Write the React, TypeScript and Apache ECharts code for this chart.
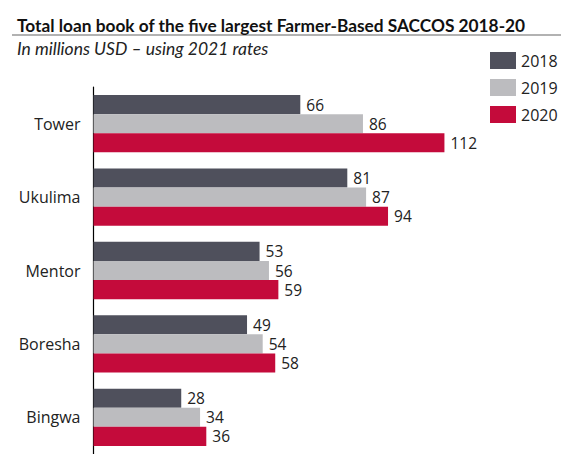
import React, { useEffect, useRef } from "react";
import * as echarts from "echarts";

const categories = ["Tower", "Ukulima", "Mentor", "Boresha", "Bingwa"];
const years = ["2018", "2019", "2020"];
const values2018 = [66, 81, 53, 49, 28];
const values2019 = [86, 87, 56, 54, 34];
const values2020 = [112, 94, 59, 58, 36];
const colors = ["#4f505c", "#bcbcbf", "#c40b3b"];

export default function App() {
  const ref = useRef<HTMLDivElement>(null);
  useEffect(() => {
    if (!ref.current) return;
    const chart = echarts.init(ref.current, null, { renderer: "svg" });
    const font = "Lato, 'Open Sans', sans-serif";
    const font2 = "'Open Sans', Lato, sans-serif";
    const data = [values2018, values2019, values2020];
    chart.setOption({
      animation: false,
      backgroundColor: "#ffffff",
      title: [
        {
          text: "Total loan book of the five largest Farmer-Based SACCOS 2018-20",
          left: 12,
          top: 12,
          textStyle: { fontFamily: font, fontSize: 17.3, fontWeight: "bold", color: "#111" },
        },
        {
          text: "In millions USD \u2013 using 2021 rates",
          left: 12,
          top: 34,
          textStyle: { fontFamily: font, fontSize: 17.5, fontWeight: "normal", fontStyle: "italic", color: "#222" },
        },
      ],
      graphic: [
        {
          type: "line",
          shape: { x1: 12, y1: 35, x2: 561, y2: 35 },
          style: { stroke: "#666", lineWidth: 1.2 },
        },
      ],
      legend: {
        orient: "vertical",
        left: 485,
        top: 47,
        itemWidth: 26,
        itemHeight: 17,
        itemGap: 10,
        icon: "rect",
        textStyle: { fontFamily: font2, fontSize: 16, color: "#222" },
        data: years,
      },
      grid: { left: 93.5, top: 87, width: 470, height: 373 },
      xAxis: {
        type: "value",
        min: 0,
        max: 150,
        show: false,
      },
      yAxis: {
        type: "category",
        data: categories,
        inverse: true,
        axisLine: { show: true, lineStyle: { color: "#000", width: 1.2 } },
        axisTick: { show: false },
        axisLabel: { fontFamily: font2, fontSize: 16, color: "#222", margin: 13 },
      },
      series: years.map((y, i) => ({
        name: y,
        type: "bar",
        data: data[i],
        barGap: "0%",
        barCategoryGap: "22%",
        itemStyle: { color: colors[i] },
        label: {
          show: true,
          position: "right",
          distance: 6,
          fontFamily: font2,
          fontSize: 15.5,
          color: "#222",
        },
      })),
    });
    return () => chart.dispose();
  }, []);
  return (
    <div
      ref={ref}
      style={{ position: "fixed", left: 0, top: 0, width: 568, height: 454 }}
    />
  );
}
